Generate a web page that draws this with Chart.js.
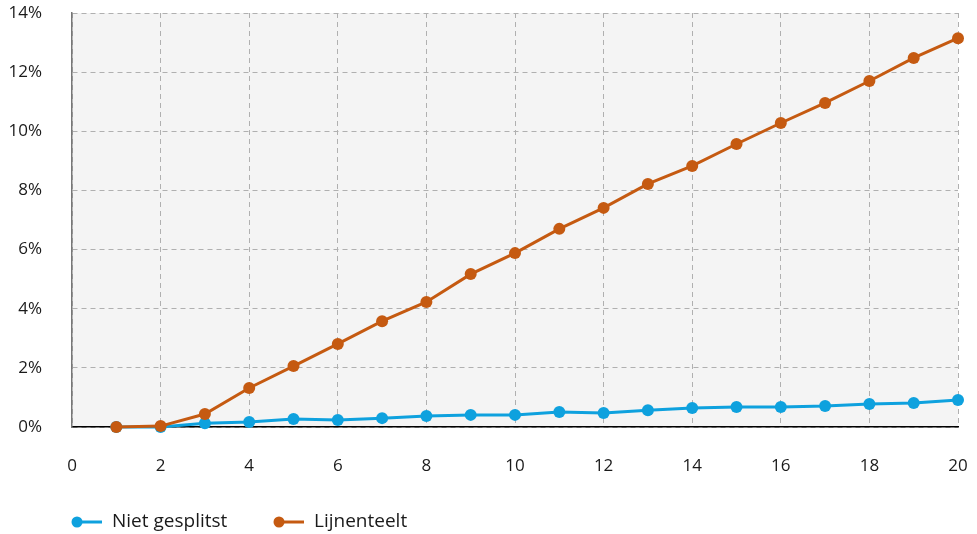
<!DOCTYPE html>
<html>
<head>
    <title>Niet gesplitst vs Lijnenteelt</title>
    <style>
        html, body { margin: 0; padding: 0; background: #fff; }
        #wrap { width: 977px; height: 534px; position: relative; }
    </style>
</head>
<body>
    <div id="wrap"><canvas id="chart"></canvas></div>

    <script src="https://cdn.jsdelivr.net/npm/chart.js"></script>
    <script>
        // jaren 1..20
        const years = [1, 2, 3, 4, 5, 6, 7, 8, 9, 10, 11, 12, 13, 14, 15, 16, 17, 18, 19, 20];
        const nietGesplitst = [0, 0, 0.13, 0.17, 0.27, 0.24, 0.30, 0.37, 0.41, 0.41, 0.51, 0.47, 0.57, 0.64, 0.68, 0.68, 0.71, 0.78, 0.81, 0.91];
        const lijnenteelt = [0, 0.03, 0.44, 1.32, 2.06, 2.81, 3.58, 4.23, 5.17, 5.88, 6.70, 7.41, 8.22, 8.83, 9.57, 10.28, 10.96, 11.70, 12.48, 13.15];
        const seriesNames = ['Niet gesplitst', 'Lijnenteelt'];
        const seriesColors = ['#0ea1de', '#c55a11'];

        const FONT = '"Open Sans", sans-serif';

        const plotBg = {
            id: 'plotBg',
            beforeDraw(chart) {
                const a = chart.chartArea, ctx = chart.ctx;
                ctx.save();
                ctx.fillStyle = '#f4f4f4';
                ctx.fillRect(a.left, a.top, a.right - a.left, a.bottom - a.top);
                ctx.restore();
            }
        };

        // legenda onderaan: lijntje met bolletje links
        const bottomLegend = {
            id: 'bottomLegend',
            afterDraw(chart) {
                const ctx = chart.ctx;
                const y = 522;
                const items = [{ x: 77, tx: 112 }, { x: 279, tx: 314 }];
                ctx.save();
                items.forEach((it, i) => {
                    ctx.strokeStyle = seriesColors[i];
                    ctx.fillStyle = seriesColors[i];
                    ctx.lineWidth = 3;
                    ctx.beginPath();
                    ctx.moveTo(it.x, y);
                    ctx.lineTo(it.x + 25, y);
                    ctx.stroke();
                    ctx.beginPath();
                    ctx.arc(it.x, y, 5.5, 0, Math.PI * 2);
                    ctx.fill();
                    ctx.fillStyle = '#1a1a1a';
                    ctx.font = '19px ' + FONT;
                    ctx.textBaseline = 'middle';
                    ctx.textAlign = 'left';
                    ctx.fillText(seriesNames[i], it.tx, y);
                });
                ctx.restore();
            }
        };

        const makeSet = (label, data, color, order) => ({
            label: label,
            data: data.map((v, i) => ({ x: years[i], y: v })),
            borderColor: color,
            backgroundColor: color,
            borderWidth: 3,
            pointRadius: 6,
            pointHoverRadius: 6,
            pointBorderWidth: 0,
            tension: 0,
            clip: false,
            order: order
        });

        new Chart(document.getElementById('chart'), {
            type: 'line',
            data: {
                datasets: [
                    makeSet(seriesNames[0], nietGesplitst, seriesColors[0], 1),
                    makeSet(seriesNames[1], lijnenteelt, seriesColors[1], 0)
                ]
            },
            options: {
                responsive: true,
                maintainAspectRatio: false,
                animation: false,
                layout: { padding: { top: 13, right: 19, left: 0, bottom: 0 } },
                plugins: {
                    legend: { display: false },
                    tooltip: { enabled: false }
                },
                scales: {
                    x: {
                        type: 'linear',
                        min: 0, max: 20,
                        ticks: { stepSize: 2, padding: 29, color: '#1a1a1a', font: { family: FONT, size: 17 } },
                        grid: { color: '#b0b0b0', drawTicks: false },
                        border: { color: '#000', width: 1.5, dash: [5, 4] },
                        afterFit(s) { s.height = 107; s.paddingLeft = 0; s.paddingRight = 0; }
                    },
                    y: {
                        min: 0, max: 14,
                        ticks: {
                            stepSize: 2, padding: 30, color: '#1a1a1a', font: { family: FONT, size: 17 },
                            callback: v => v + '%'
                        },
                        grid: { color: '#b0b0b0', drawTicks: false },
                        border: { color: '#777', width: 1.5, dash: [5, 4] },
                        afterFit(s) { s.width = 72; s.paddingTop = 0; s.paddingBottom = 0; }
                    }
                }
            },
            plugins: [plotBg, bottomLegend]
        });
    </script>
</body>
</html>
